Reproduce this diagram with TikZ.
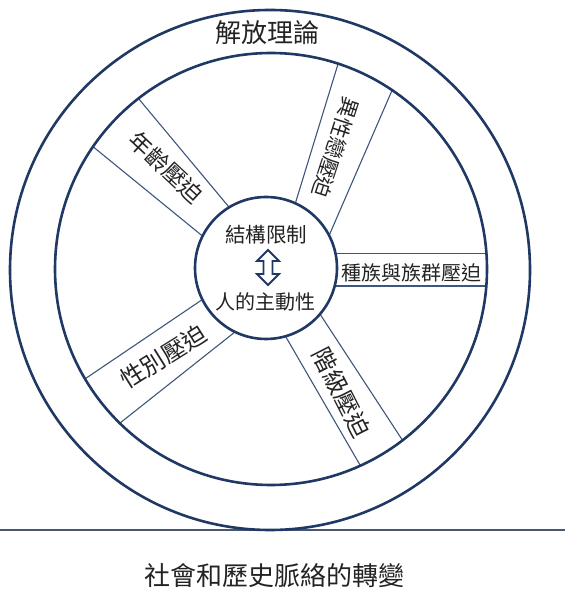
\documentclass[tikz,border=0pt]{standalone}
\usepackage{fontspec}
\newfontfamily\cjkfont{Noto Sans CJK TC}
\definecolor{wheelblue}{RGB}{31,56,100}
\definecolor{spokeblue}{RGB}{62,86,124}
\definecolor{groundcol}{RGB}{70,88,116}
\definecolor{inkcol}{RGB}{35,35,35}

\begin{document}
\begin{tikzpicture}[x=1pt, y=1pt, font=\cjkfont,
  ring/.style={draw=wheelblue, line width=2.6pt},
  spoke/.style={draw=spokeblue, line width=1.1pt, shorten <=-14pt, shorten >=-14pt},
  lbl/.style={inner sep=0pt, text=inkcol, font=\cjkfont\fontsize{#1}{#1}\selectfont}]

\useasboundingbox (0,0) rectangle (565,600);

% ---- ground line ----
\draw[groundcol, line width=1.2pt] (0,70) -- (565,70);

% ---- spokes, clipped to the rim ----
\begin{scope}
  \clip (271,331) circle (216);
  % heterosexism
  \draw[spoke] (336.7,531.7) -- (293.3,390);
  \draw[spoke] (389.3,503.3) -- (329.3,365);
  % race / ethnicity
  \draw[spoke] (335,346.7) -- (487,346.7);
  \draw[spoke] (335,314) -- (487,314);
  % age
  \draw[spoke] (138.3,501.7) -- (230,391.7);
  \draw[spoke] (95,451.7) -- (203.3,363.3);
  % gender
  \draw[spoke] (93.3,226.7) -- (201.7,300);
  \draw[spoke] (121.7,178.3) -- (233.3,266.7);
  % class
  \draw[spoke] (286.7,261.7) -- (360,135);
  \draw[spoke] (321.7,283.3) -- (406.7,153.3);
\end{scope}

% ---- circles ----
\draw[ring] (270,330) circle (260);
\draw[ring] (271,331) circle (216);
\draw[ring, fill=white] (266,332) circle (71);

% ---- hub ----
\node[lbl=20.5] (structure) at (266,365) {結構限制};
\node[lbl=20] (agency) at (265,298) {人的主動性};
\draw[wheelblue, line width=1.8pt, fill=white, line join=miter]
  (268,350) -- (279,339) -- (272.5,339) -- (272.5,326) -- (279,326) -- (268,315)
  -- (257,326) -- (263.5,326) -- (263.5,339) -- (257,339) -- cycle;

% ---- spoke labels ----
\node[lbl=21, rotate=-108] (hetero) at (335.5,452.5) {異性戀壓迫};
\node[lbl=20] (race) at (411.7,327) {種族與族群壓迫};
\node[lbl=24, rotate=-63] (classop) at (341.7,207.5) {階級壓迫};
\node[lbl=24, rotate=32] (gender) at (163.3,243.3) {性別壓迫};
\node[lbl=23, rotate=-43] (ageop) at (166,432.5) {年齡壓迫};

% ---- titles ----
\node[lbl=26] (theory) at (267.5,567) {解放理論};
\node[lbl=26] (context) at (274,24) {社會和歷史脈絡的轉變};

\end{tikzpicture}
\end{document}
